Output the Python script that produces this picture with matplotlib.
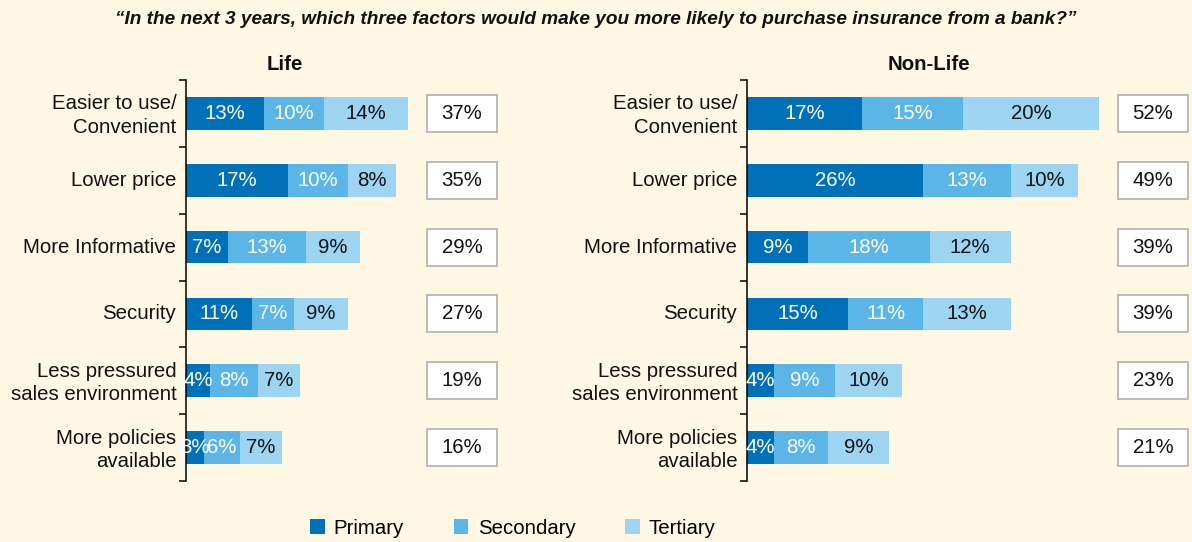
import matplotlib.pyplot as plt
from matplotlib.patches import Rectangle, Patch
from matplotlib.transforms import blended_transform_factory
import numpy as np

plt.rcParams['font.family'] = ['Liberation Sans', 'DejaVu Sans']

# 数据
categories = ["Easier to use/\nConvenient", "Lower price", "More Informative",
              "Security", "Less pressured\nsales environment", "More policies\navailable"]
series_names = ["Primary", "Secondary", "Tertiary"]

life_primary = [13, 17, 7, 11, 4, 3]
life_secondary = [10, 10, 13, 7, 8, 6]
life_tertiary = [14, 8, 9, 9, 7, 7]
life_total = [37, 35, 29, 27, 19, 16]

nonlife_primary = [17, 26, 9, 15, 4, 4]
nonlife_secondary = [15, 13, 18, 11, 9, 8]
nonlife_tertiary = [20, 10, 12, 13, 10, 9]
nonlife_total = [52, 49, 39, 39, 23, 21]

title = "\u201cIn the next 3 years, which three factors would make you more likely to purchase insurance from a bank?\u201d"

# 样式
bg = '#FDF7E4'
colors = ['#0071B9', '#5BB5E6', '#9DD4F1']
text_colors = ['white', 'white', '#111111']
fs = 14.7

W, H = 1192, 542
fig = plt.figure(figsize=(W / 100, H / 100), dpi=100, facecolor=bg)


def draw_panel(rect, px_per_pct, series, totals, box_left_px, header, header_x):
    ax = fig.add_axes([rect[0] / W, 1 - (rect[1] + rect[3]) / H, rect[2] / W, rect[3] / H])
    ax.set_facecolor(bg)
    ax.set_xlim(0, rect[2] / px_per_pct)
    ax.set_ylim(len(categories) - 0.5, -0.5)
    y = np.arange(len(categories))

    left = np.zeros(len(categories))
    for vals, c, tc in zip(series, colors, text_colors):
        bars = ax.barh(y, vals, left=left, height=0.49, color=c, edgecolor='none')
        for b, v in zip(bars, vals):
            ax.text(b.get_x() + b.get_width() / 2, b.get_y() + b.get_height() / 2,
                    f"{v}%", ha='center', va='center', color=tc, fontsize=fs)
        left += np.array(vals)

    # 合计方框
    trans = blended_transform_factory(ax.transAxes, ax.transData)
    bx = (box_left_px - rect[0]) / rect[2]
    bw = 70 / rect[2]
    bh = 37 / (rect[3] / len(categories))
    for yi, t in zip(y, totals):
        ax.add_patch(Rectangle((bx, yi - bh / 2), bw, bh, transform=trans,
                               facecolor='white', edgecolor='#B5B5B5', lw=1.3, clip_on=False))
        ax.text(bx + bw / 2, yi, f"{t}%", transform=trans, ha='center', va='center',
                fontsize=fs, color='#111111')

    # 坐标轴
    for s in ['top', 'right', 'bottom']:
        ax.spines[s].set_visible(False)
    ax.spines['left'].set_linewidth(1.1)
    ax.set_xticks([])
    ax.set_yticks(y - 0.03)
    ax.set_yticklabels(categories, fontsize=fs, color='#111111', linespacing=1.3)
    ax.tick_params(axis='y', which='major', length=0, pad=7)
    ax.set_yticks(np.arange(-0.5, len(categories)), minor=True)
    ax.tick_params(axis='y', which='minor', length=5, width=1.1)

    fig.text(header_x / W, 1 - 64 / H, header, ha='center', va='center',
             fontsize=fs, fontweight='bold', color='#111111')
    return ax


draw_panel((186, 80, 314, 401), 6.0,
           [life_primary, life_secondary, life_tertiary], life_total, 427, "Life", 285)
draw_panel((747, 80, 443, 401), 6.76,
           [nonlife_primary, nonlife_secondary, nonlife_tertiary], nonlife_total, 1118, "Non-Life", 929)

fig.text(0.5, 1 - 20 / H, title, ha='center', va='center', fontsize=13.7,
         fontstyle='italic', fontweight='bold', color='#111111')

# 图例
handles = [Patch(facecolor=c, edgecolor='none', label=n) for c, n in zip(colors, series_names)]
fig.legend(handles=handles, loc='center', bbox_to_anchor=(513 / W, 1 - 528 / H), ncol=3,
           frameon=False, fontsize=fs, handlelength=0.7, handleheight=0.7,
           handletextpad=0.45, columnspacing=2.45, borderaxespad=0, borderpad=0)

plt.savefig('out.png', dpi=100, facecolor=bg)
